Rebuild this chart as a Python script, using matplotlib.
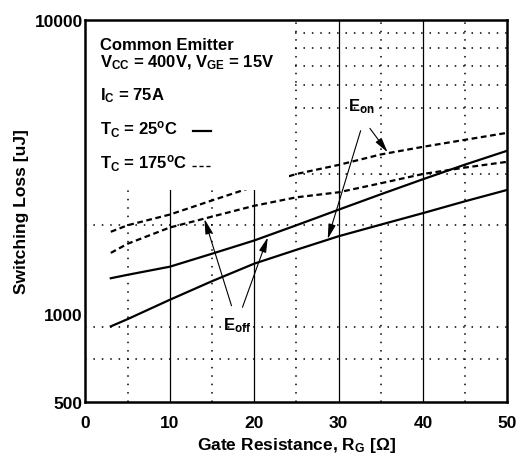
import matplotlib
matplotlib.use("Agg")
import matplotlib.pyplot as plt
from matplotlib.patches import Rectangle

plt.rcParams['font.family'] = ['Liberation Sans', 'DejaVu Sans']
plt.rcParams['font.weight'] = 'bold'
plt.rcParams['mathtext.fontset'] = 'custom'
plt.rcParams['mathtext.rm'] = 'Liberation Sans:bold'
plt.rcParams['mathtext.it'] = 'Liberation Sans:bold'
plt.rcParams['mathtext.bf'] = 'Liberation Sans:bold'
plt.rcParams['mathtext.default'] = 'rm'

# ---- data ----
rg = [3, 5, 10, 15, 20, 25, 30, 35, 40, 45, 50]
eoff_25 = [1320, 1356, 1445, 1600, 1775, 2000, 2260, 2550, 2870, 3220, 3590]
eon_25 = [905, 958, 1115, 1290, 1480, 1650, 1835, 2010, 2200, 2415, 2640]
eon_175 = [1900, 2000, 2175, 2430, 2710, 2990, 3210, 3485, 3700, 3910, 4130]
eoff_175 = [1610, 1730, 1965, 2140, 2330, 2490, 2590, 2780, 2990, 3145, 3290]

x_ticks = [0, 10, 20, 30, 40, 50]
y_ticks = [500, 1000, 10000]
v_solid = [10, 20, 30, 40]
v_dotted = [5, 15, 25, 35, 45]
h_dotted = [700, 900, 2000, 3000, 5000, 6000, 7000, 8000, 9000]

fig = plt.figure(figsize=(5.19, 4.60), dpi=100)
ax = fig.add_axes([0.1647, 0.1239, 0.8131, 0.8304])
ax.set_yscale('log')
ax.set_xlim(0, 50)
ax.set_ylim(500, 10000)

# grid
for v in v_solid:
    ax.axvline(v, color='black', lw=0.9, zorder=1)
for v in v_dotted:
    ax.axvline(v, color='black', lw=1.1, ls=(0, (1, 4.5)), zorder=1)
for h in h_dotted:
    ax.axhline(h, color='black', lw=1.1, ls=(0, (1, 4.5)), zorder=1)

dash = (0, (2.6, 1.6))
ax.plot(rg, eoff_25, color='black', lw=1.6, zorder=2)
ax.plot(rg, eon_25, color='black', lw=1.6, zorder=2)
ax.plot(rg, eon_175, color='black', lw=1.6, ls=dash, zorder=2)
ax.plot(rg, eoff_175, color='black', lw=1.6, ls=dash, zorder=2)

# white annotation box
ax.add_patch(Rectangle((0, 2640), 24.1, 10000 - 2640, facecolor='white',
                       edgecolor='none', zorder=3))

fs = 12
tx = 0.034
ax.text(tx, 0.924, 'Common Emitter', transform=ax.transAxes, fontsize=fs,
        fontweight='bold', va='baseline', zorder=4)
ax.text(tx, 0.879, r'V$_{CC}$ = 400V, V$_{GE}$ = 15V', transform=ax.transAxes,
        fontsize=fs, fontweight='bold', va='baseline', zorder=4)
ax.text(tx, 0.793, r'I$_{C}$ = 75A', transform=ax.transAxes, fontsize=fs,
        fontweight='bold', va='baseline', zorder=4)
ax.text(tx, 0.702, r'T$_{C}$ = 25$^{o}$C', transform=ax.transAxes, fontsize=fs,
        fontweight='bold', va='baseline', zorder=4)
ax.text(tx, 0.613, r'T$_{C}$ = 175$^{o}$C', transform=ax.transAxes, fontsize=fs,
        fontweight='bold', va='baseline', zorder=4)
ax.plot([0.255, 0.298], [0.709, 0.709], transform=ax.transAxes, color='black',
        lw=1.6, zorder=4)
ax.plot([0.252, 0.296], [0.618, 0.618], transform=ax.transAxes, color='black',
        lw=1.0, ls=(0, (3, 2)), zorder=4)

# labels with arrows
ax.text(31.1, 4920, r'E$_{on}$', fontsize=fs, fontweight='bold', va='baseline',
        ha='left', zorder=4)
ax.text(16.25, 887, r'E$_{off}$', fontsize=fs, fontweight='bold', va='baseline',
        ha='left', zorder=4)
ap = dict(arrowstyle='-|>,head_length=0.9,head_width=0.22', color='black',
          lw=0.8, shrinkA=0, shrinkB=0)
ax.annotate('', xy=(28.7, 1795), xytext=(32.6, 4197), arrowprops=ap, zorder=4)
ax.annotate('', xy=(35.8, 3544), xytext=(33.7, 4276), arrowprops=ap, zorder=4)
ax.annotate('', xy=(14.1, 2100), xytext=(17.3, 1064), arrowprops=ap, zorder=4)
ax.annotate('', xy=(21.6, 1819), xytext=(18.6, 1051), arrowprops=ap, zorder=4)

# axes styling
ax.set_xticks(x_ticks)
ax.set_xticklabels([str(t) for t in x_ticks])
ax.set_yticks(y_ticks)
ax.set_yticklabels([str(t) for t in y_ticks])
ax.yaxis.set_minor_locator(matplotlib.ticker.NullLocator())
ax.tick_params(axis='both', length=0, labelsize=12.5)
ax.tick_params(axis='x', pad=9)
ax.tick_params(axis='y', pad=2)
for lab in ax.get_xticklabels() + ax.get_yticklabels():
    lab.set_fontweight('bold')
for s in ax.spines.values():
    s.set_linewidth(1.8)
    s.set_zorder(5)

ax.set_xlabel(r'Gate Resistance, R$_{G}$ [Ω]', fontsize=12.5, fontweight='bold',
              labelpad=4)
ax.set_ylabel('Switching Loss [uJ]', fontsize=12.5, fontweight='bold', labelpad=4)

fig.savefig('out.png', dpi=100)
